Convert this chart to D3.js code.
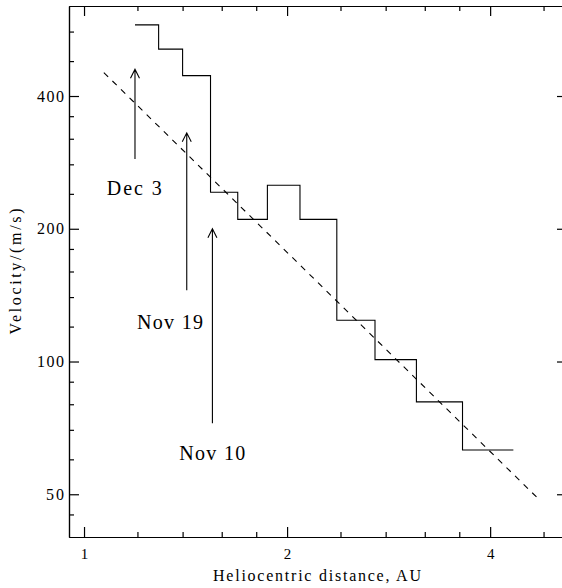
<!DOCTYPE html>
<html><head><meta charset="utf-8">
<script src="https://cdn.jsdelivr.net/npm/d3@7"></script>
<style>
body{margin:0;background:#fff}
svg{display:block}
text{font-family:"Liberation Serif","Times New Roman",serif;fill:#000}
</style>
</head><body>
<svg id="chart" width="562" height="588"></svg>
<script>
// Velocity profile: bin edges (AU) and velocity in each bin (m/s)
const binEdges = [1.19, 1.29, 1.40, 1.54, 1.69, 1.87, 2.09, 2.37, 2.70, 3.11, 3.64, 4.33];
const binVelocity = [580, 511, 445, 242, 210, 251, 210, 124, 101, 81, 63];

// Power-law fit, drawn between its two end points
const fitDistance = [1.07, 4.75];
const fitVelocity = [452, 48.3];

// Observation dates marked with arrows
const obsLabels = ["Dec 3", "Nov 19", "Nov 10"];
const obsDistance = [1.19, 1.42, 1.55];
const arrowFrom = [288, 145, 72.4];
const arrowTo = [460, 330, 200];
const labelDistance = [1.187, 1.341, 1.549];
const labelVelocity = [238, 118.6, 59.9];

// Axis ticks
const xMajor = [1, 2, 4];
const xMinor = [1.2, 1.4, 1.6, 1.8, 2.4, 2.8, 3.2, 3.6, 4.8];
const yMajor = [50, 100, 200, 400];
const yMinor = [45, 60, 70, 80, 90, 120, 140, 160, 180, 240, 280, 320, 360, 480, 560];

const xTitle = "Heliocentric distance, AU";
const yTitle = "Velocity/(m/s)";

const svg = d3.select("#chart");
const L = 69, R = 567, T = 6, B = 537;

const x = d3.scaleLog().domain([0.95, 5.2]).range([L, R]);
const y = d3.scaleLog().domain([40, 640]).range([B, T]);

const axisStyle = g => {
  g.selectAll("path.domain").attr("stroke", "#000").attr("stroke-width", 1.2);
  g.selectAll(".tick line").attr("stroke", "#000").attr("stroke-width", 1.2);
};

// Bottom axis
svg.append("g").attr("transform", `translate(0,${B})`)
  .call(d3.axisBottom(x).tickValues(xMinor).tickSize(-5).tickSizeOuter(0).tickFormat(""))
  .call(axisStyle);
const bx = svg.append("g").attr("transform", `translate(0,${B})`)
  .call(d3.axisBottom(x).tickValues(xMajor).tickSize(-10).tickSizeOuter(0).tickPadding(11).tickFormat(d3.format("d")))
  .call(axisStyle);
bx.selectAll("text").style("font-size", "15px").attr("font-family", null);

// Top axis
svg.append("g").attr("transform", `translate(0,${T})`)
  .call(d3.axisTop(x).tickValues(xMinor).tickSize(-5).tickSizeOuter(0).tickFormat(""))
  .call(axisStyle);
svg.append("g").attr("transform", `translate(0,${T})`)
  .call(d3.axisTop(x).tickValues(xMajor).tickSize(-10).tickSizeOuter(0).tickFormat(""))
  .call(axisStyle);

// Left axis
svg.append("g").attr("transform", `translate(${L},0)`)
  .call(d3.axisLeft(y).tickValues(yMinor).tickSize(-5).tickSizeOuter(0).tickFormat(""))
  .call(axisStyle);
const ly = svg.append("g").attr("transform", `translate(${L},0)`)
  .call(d3.axisLeft(y).tickValues(yMajor).tickSize(-10).tickSizeOuter(0).tickPadding(5).tickFormat(d3.format("d")))
  .call(axisStyle);
ly.selectAll("text").style("font-size", "16px").attr("font-family", null)
  .attr("textLength", d => String(d).length * 9)
  .attr("lengthAdjust", "spacing");

// Right axis
svg.append("g").attr("transform", `translate(${R},0)`)
  .call(d3.axisRight(y).tickValues(yMinor).tickSize(-5).tickSizeOuter(0).tickFormat(""))
  .call(axisStyle);
svg.append("g").attr("transform", `translate(${R},0)`)
  .call(d3.axisRight(y).tickValues(yMajor).tickSize(-10).tickSizeOuter(0).tickFormat(""))
  .call(axisStyle);

// Histogram-style velocity profile
const steps = binEdges.map((e, i) => [e, binVelocity[Math.min(i, binVelocity.length - 1)]]);
svg.append("path")
  .attr("d", d3.line().x(d => x(d[0])).y(d => y(d[1])).curve(d3.curveStepAfter)(steps))
  .attr("fill", "none").attr("stroke", "#000").attr("stroke-width", 1.1);

// Dashed power-law fit
svg.append("path")
  .attr("d", d3.line().x(d => x(d[0])).y(d => y(d[1]))(fitDistance.map((d, i) => [d, fitVelocity[i]])))
  .attr("fill", "none").attr("stroke", "#000").attr("stroke-width", 1.1)
  .attr("stroke-dasharray", "6,6");

// Observation arrows and date labels
obsLabels.forEach((lab, i) => {
  const ax = x(obsDistance[i]);
  const y0 = y(arrowFrom[i]), y1 = y(arrowTo[i]);
  svg.append("path")
    .attr("d", `M${ax},${y0}V${y1}M${ax - 4.5},${y1 + 9}L${ax},${y1}L${ax + 4.5},${y1 + 9}`)
    .attr("fill", "none").attr("stroke", "#000").attr("stroke-width", 1.1);
  svg.append("text")
    .attr("x", x(labelDistance[i])).attr("y", y(labelVelocity[i]))
    .attr("text-anchor", "middle")
    .style("font-size", "20px")
    .attr("textLength", lab.length * 11)
    .attr("lengthAdjust", "spacing")
    .text(lab);
});

// Axis titles
svg.append("text")
  .attr("x", (L + R) / 2 - 1).attr("y", 581)
  .attr("text-anchor", "middle")
  .style("font-size", "16px")
  .attr("textLength", 208).attr("lengthAdjust", "spacing")
  .text(xTitle);

svg.append("text")
  .attr("transform", `translate(21,${(T + B) / 2}) rotate(-90)`)
  .attr("text-anchor", "middle")
  .style("font-size", "16px")
  .attr("textLength", 126).attr("lengthAdjust", "spacing")
  .text(yTitle);
</script>
</body></html>
